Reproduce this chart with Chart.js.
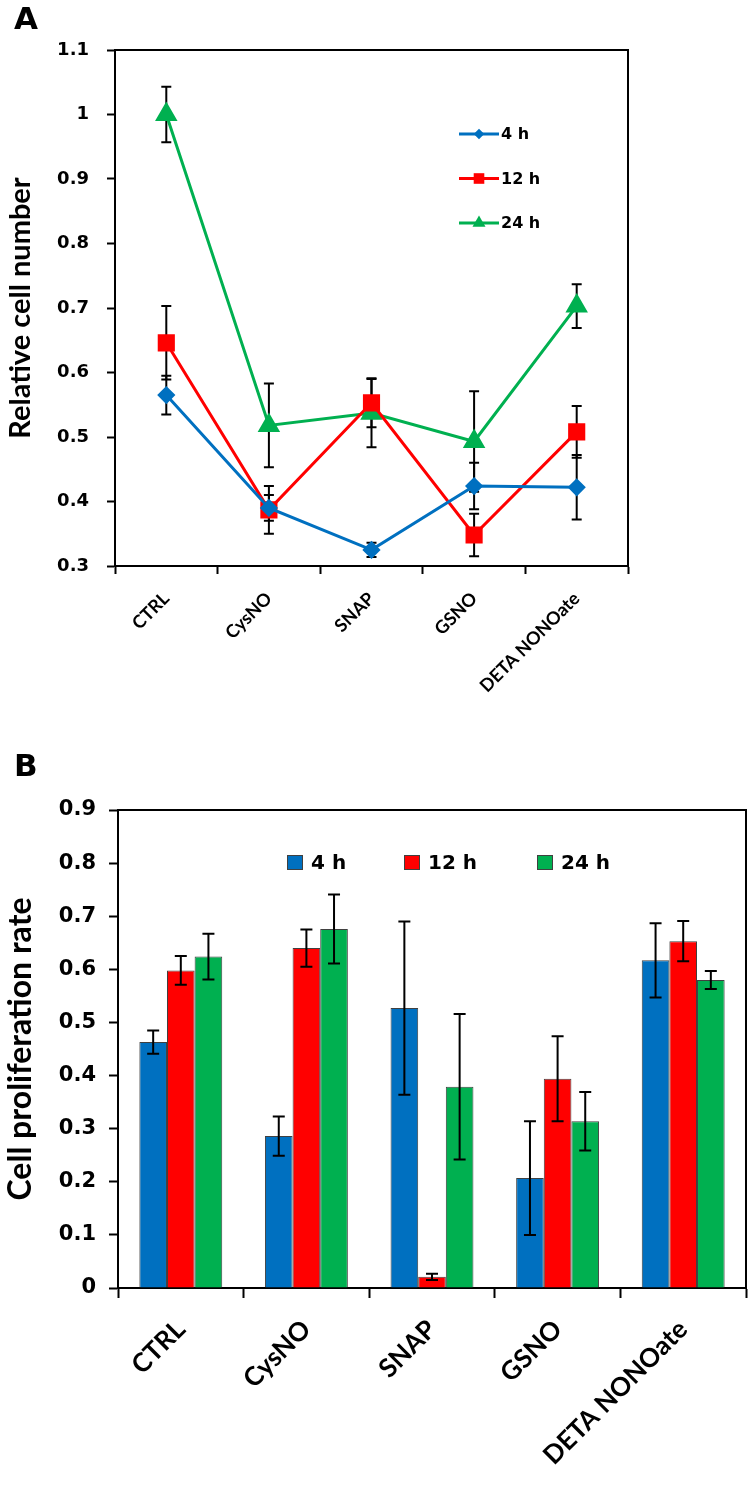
<!DOCTYPE html>
<html>
<head>
<meta charset="utf-8">
<script src="https://cdn.jsdelivr.net/npm/chart.js@4.4.1/dist/chart.umd.min.js"></script>
<style>
  body { margin: 0; background: #fff; width: 750px; height: 1485px; position: relative; overflow: hidden; }
  .panel-label { position: absolute; left: 14px; font: bold 31px "DejaVu Sans", sans-serif; line-height: 1; color: #000; }
  #wrapA { position: absolute; left: 0; top: 0; width: 750px; height: 740px; }
  #wrapB { position: absolute; left: 0; top: 740px; width: 750px; height: 745px; }
</style>
</head>
<body>
<div id="wrapA"><canvas id="chartA" width="750" height="740"></canvas></div>
<div id="wrapB"><canvas id="chartB" width="750" height="745"></canvas></div>
<div class="panel-label" style="top:3px">A</div>
<div class="panel-label" style="top:750px">B</div>
<script>
const categories = ['CTRL', 'CysNO', 'SNAP', 'GSNO', 'DETA NONOate'];
const seriesLabels = ['4 h', '12 h', '24 h'];

// Panel A - relative cell number (mean and error)
const cellNumber4h = [0.565, 0.390, 0.325, 0.424, 0.422];
const cellNumber12h = [0.646, 0.387, 0.553, 0.348, 0.508];
const cellNumber24h = [1.000, 0.518, 0.537, 0.493, 0.703];
const cellNumberErr4h = [0.030, 0.020, 0.011, 0.036, 0.050];
const cellNumberErr12h = [0.057, 0.037, 0.038, 0.033, 0.040];
const cellNumberErr24h = [0.043, 0.065, 0.053, 0.078, 0.034];
const yTicksA = [0.3, 0.4, 0.5, 0.6, 0.7, 0.8, 0.9, 1, 1.1];

// Panel B - cell proliferation rate (mean and error)
const prolif4h = [0.463, 0.286, 0.527, 0.207, 0.617];
const prolif12h = [0.598, 0.640, 0.021, 0.394, 0.653];
const prolif24h = [0.624, 0.676, 0.379, 0.314, 0.580];
const prolifErr4h = [0.022, 0.037, 0.163, 0.107, 0.070];
const prolifErr12h = [0.027, 0.035, 0.006, 0.080, 0.038];
const prolifErr24h = [0.043, 0.065, 0.137, 0.055, 0.017];
const yTicksB = [0, 0.1, 0.2, 0.3, 0.4, 0.5, 0.6, 0.7, 0.8, 0.9];

const BLUE = '#0070C0';
const RED = '#FF0000';
const GREEN = '#00B050';
const WIDE = '"DejaVu Sans", sans-serif';
const NARROW = 'Lato, sans-serif';

Chart.defaults.font.family = NARROW;
Chart.defaults.font.weight = 'bold';
Chart.defaults.color = '#000';

function drawErrorBars(chart, opts) {
    const ctx = chart.ctx;
    const yScale = chart.scales.y;
    ctx.save();
    ctx.strokeStyle = '#000';
    ctx.lineWidth = opts.width;
    chart.data.datasets.forEach((ds, i) => {
        const meta = chart.getDatasetMeta(i);
        meta.data.forEach((el, j) => {
            const v = ds.data[j];
            const e = ds.errors[j];
            const top = yScale.getPixelForValue(v + e);
            const bot = yScale.getPixelForValue(v - e);
            const x = el.x;
            ctx.beginPath();
            ctx.moveTo(x, top);
            ctx.lineTo(x, bot);
            ctx.moveTo(x - opts.cap, top);
            ctx.lineTo(x + opts.cap, top);
            ctx.moveTo(x - opts.cap, bot);
            ctx.lineTo(x + opts.cap, bot);
            ctx.stroke();
        });
    });
    ctx.restore();
}

const errorBars = {
    id: 'errorBars',
    beforeDatasetsDraw(chart, args, opts) {
        if (opts.layer === 'below') drawErrorBars(chart, opts);
    },
    afterDatasetsDraw(chart, args, opts) {
        if (opts.layer !== 'below') drawErrorBars(chart, opts);
    }
};

// top and right border of the plot box
const frame = {
    id: 'frame',
    afterDraw(chart) {
        const { ctx, chartArea: a } = chart;
        ctx.save();
        ctx.strokeStyle = '#000';
        ctx.lineWidth = 2;
        ctx.beginPath();
        ctx.moveTo(a.left, a.top);
        ctx.lineTo(a.right, a.top);
        ctx.lineTo(a.right, a.bottom);
        ctx.stroke();
        ctx.restore();
    }
};

// legend drawn inside the plot area
const insideLegend = {
    id: 'insideLegend',
    afterDraw(chart, args, opts) {
        const ctx = chart.ctx;
        ctx.save();
        ctx.font = `bold ${opts.fontSize}px ${WIDE}`;
        ctx.textBaseline = 'middle';
        chart.data.datasets.forEach((ds, i) => {
            if (opts.kind === 'line') {
                const x = opts.x;
                const y = opts.y + opts.dy * i;
                ctx.strokeStyle = ds.borderColor;
                ctx.lineWidth = ds.borderWidth;
                ctx.beginPath();
                ctx.moveTo(x, y);
                ctx.lineTo(x + 40, y);
                ctx.stroke();
                ctx.fillStyle = ds.backgroundColor;
                Chart.helpers.drawPoint(ctx, {
                    pointStyle: ds.pointStyle,
                    radius: ds.pointRadius * 0.75,
                    rotation: 0,
                    borderWidth: 0
                }, x + 20, y);
                ctx.fillStyle = '#000';
                ctx.fillText(ds.label, x + 42, y + 1);
            } else {
                const x = opts.xs[i];
                const y = opts.y;
                ctx.fillStyle = ds.backgroundColor;
                ctx.fillRect(x, y - 8, 16, 15);
                ctx.strokeStyle = '#404040';
                ctx.lineWidth = 1;
                ctx.strokeRect(x + 0.5, y - 7.5, 15, 14);
                ctx.fillStyle = '#000';
                ctx.fillText(ds.label, x + 24, y + 1);
            }
        });
        ctx.restore();
    }
};

const plainTick = v => String(v);

new Chart(document.getElementById('chartA'), {
    type: 'line',
    data: {
        labels: categories,
        datasets: [
            { label: seriesLabels[0], data: cellNumber4h, errors: cellNumberErr4h, borderColor: BLUE, backgroundColor: BLUE, borderWidth: 3, pointStyle: 'rectRot', pointRadius: 7 },
            { label: seriesLabels[1], data: cellNumber12h, errors: cellNumberErr12h, borderColor: RED, backgroundColor: RED, borderWidth: 3, pointStyle: 'rect', pointRadius: 10 },
            { label: seriesLabels[2], data: cellNumber24h, errors: cellNumberErr24h, borderColor: GREEN, backgroundColor: GREEN, borderWidth: 3, pointStyle: 'triangle', pointRadius: 10 }
        ]
    },
    options: {
        responsive: false,
        animation: false,
        devicePixelRatio: 1,
        elements: { line: { tension: 0 }, point: { borderWidth: 0 } },
        layout: { padding: { left: 0, right: 122, top: 50, bottom: 0 } },
        plugins: {
            legend: { display: false },
            tooltip: { enabled: false },
            errorBars: { layer: 'below', cap: 5, width: 2 },
            insideLegend: { kind: 'line', x: 459, y: 134, dy: 44.5, fontSize: 16 }
        },
        scales: {
            x: {
                offset: true,
                grid: { offset: true, drawOnChartArea: false, color: '#000', tickLength: 8, tickWidth: 2 },
                border: { color: '#000', width: 2 },
                ticks: { autoSkip: false, maxRotation: 45, minRotation: 45, font: { family: NARROW, size: 18, weight: 'bold' }, color: '#000', padding: 14 },
                afterFit: s => { s.height = 174; }
            },
            y: {
                min: 0.3,
                max: 1.1,
                afterBuildTicks: s => { s.ticks = yTicksA.map(v => ({ value: v })); },
                grid: { drawOnChartArea: false, color: '#000', tickLength: 8, tickWidth: 2 },
                border: { color: '#000', width: 2 },
                ticks: { callback: plainTick, font: { family: WIDE, size: 18, weight: 'bold' }, color: '#000', padding: 18 },
                title: { display: true, text: 'Relative cell number', font: { family: NARROW, size: 29, weight: 'bold' }, color: '#000', padding: { top: 3, bottom: 0 } },
                afterFit: s => { s.width = 115; }
            }
        }
    },
    plugins: [errorBars, frame, insideLegend]
});

new Chart(document.getElementById('chartB'), {
    type: 'bar',
    data: {
        labels: categories,
        datasets: [
            { label: seriesLabels[0], data: prolif4h, errors: prolifErr4h, backgroundColor: BLUE },
            { label: seriesLabels[1], data: prolif12h, errors: prolifErr12h, backgroundColor: RED },
            { label: seriesLabels[2], data: prolif24h, errors: prolifErr24h, backgroundColor: GREEN }
        ]
    },
    options: {
        responsive: false,
        animation: false,
        devicePixelRatio: 1,
        datasets: { bar: { categoryPercentage: 0.66, barPercentage: 1, borderColor: '#404040', borderWidth: 1 } },
        layout: { padding: { left: 0, right: 4, top: 70, bottom: 0 } },
        plugins: {
            legend: { display: false },
            tooltip: { enabled: false },
            errorBars: { layer: 'above', cap: 6, width: 2 },
            insideLegend: { kind: 'box', xs: [287, 404, 537], y: 123, fontSize: 20 }
        },
        scales: {
            x: {
                grid: { offset: true, drawOnChartArea: false, color: '#000', tickLength: 10, tickWidth: 2 },
                border: { color: '#000', width: 2 },
                ticks: { autoSkip: false, maxRotation: 45, minRotation: 45, font: { family: NARROW, size: 26, weight: 'bold' }, color: '#000', padding: 16 },
                afterFit: s => { s.height = 197; }
            },
            y: {
                min: 0,
                max: 0.9,
                afterBuildTicks: s => { s.ticks = yTicksB.map(v => ({ value: v })); },
                grid: { drawOnChartArea: false, color: '#000', tickLength: 9, tickWidth: 2 },
                border: { color: '#000', width: 2 },
                ticks: { callback: plainTick, font: { family: WIDE, size: 21, weight: 'bold' }, color: '#000', padding: 13 },
                title: { display: true, text: 'Cell proliferation rate', font: { family: NARROW, size: 32, weight: 'bold' }, color: '#000', padding: { top: 1, bottom: 0 } },
                afterFit: s => { s.width = 118; }
            }
        }
    },
    plugins: [errorBars, frame, insideLegend]
});
</script>
</body>
</html>
